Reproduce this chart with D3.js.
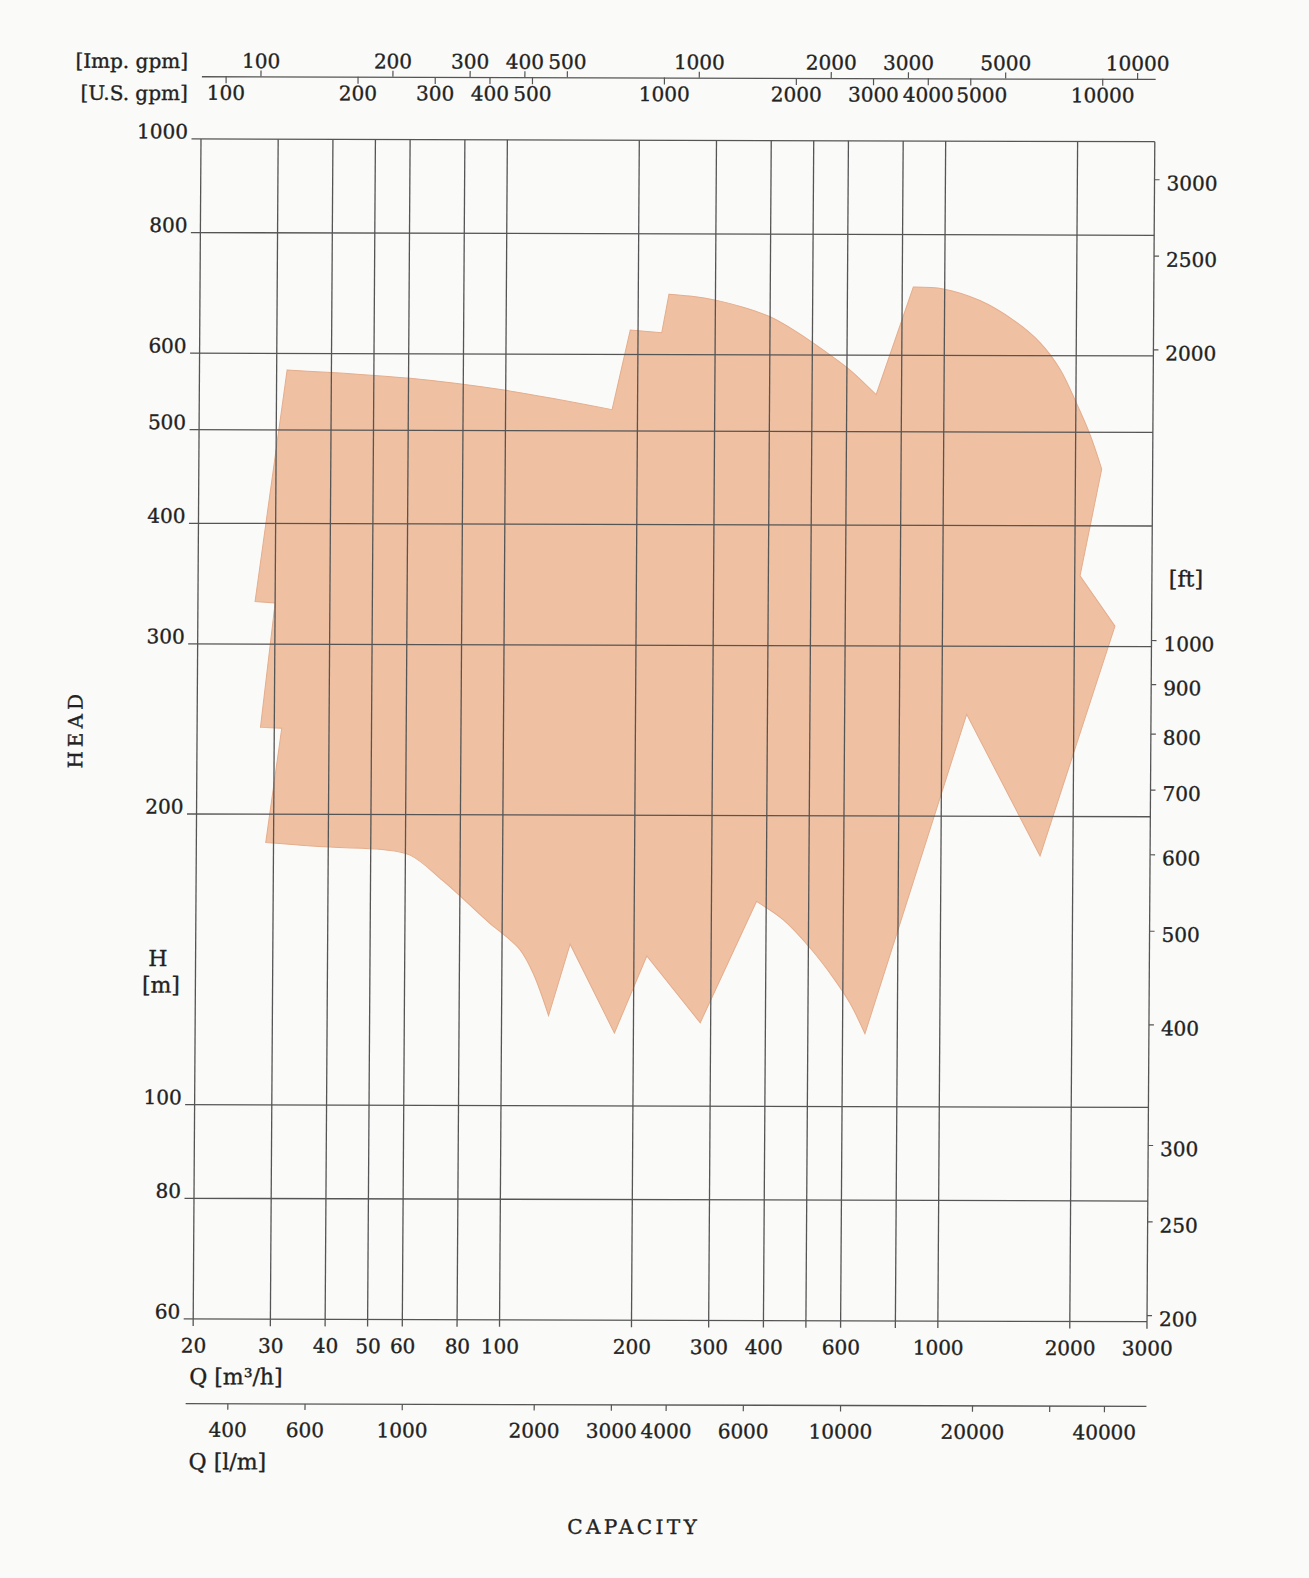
<!DOCTYPE html>
<html><head><meta charset="utf-8">
<script src="https://cdn.jsdelivr.net/npm/d3@7"></script>
<style>
html,body{margin:0;padding:0;background:#fafaf8;}
svg{display:block;}
</style></head><body>
<svg id="c" width="1309" height="1578"></svg>
<script>
// ---- data ----
// operating envelope outline, Q [m3/h] and H [m], traced clockwise
const envelopeQ = [31.7, 60.5, 101, 175, 192, 226.5, 235, 262, 302, 347, 400, 460, 530, 610, 700,
  848, 993, 1204, 1436, 1653, 1838, 2009, 2157, 2296, 2056, 2475, 1683, 1139,
  675, 623, 570, 504, 438, 380, 284, 214, 181, 143, 128, 118, 110, 99, 95, 73, 61.5, 53, 40.4,
  28.8, 31.2, 27.9, 30.0, 27.0];
const envelopeH = [577, 566, 550, 526, 636, 632, 693, 690, 683, 672, 657, 634, 607, 579, 546,
  706, 703, 684, 653, 619, 581, 535, 497, 458, 355, 315, 182, 255,
  119, 128, 136, 146, 156, 163, 122, 143, 119, 147, 124, 137, 145, 151.4, 153.6, 171, 181.6, 184, 185,
  187, 245.5, 246, 331, 332];
const gridQ = [20, 30, 40, 50, 60, 80, 100, 200, 300, 400, 500, 600, 800, 1000, 2000, 3000];
const labelQ = [20, 30, 40, 50, 60, 80, 100, 200, 300, 400, 600, 1000, 2000, 3000];
const gridH = [60, 80, 100, 200, 300, 400, 500, 600, 800, 1000];
const ftTicks = [200, 250, 300, 400, 500, 600, 700, 800, 900, 1000, 2000, 2500, 3000];
const usGpmTicks = [100, 200, 300, 400, 500, 1000, 2000, 3000, 4000, 5000, 10000];
const impGpmTicks = [100, 200, 300, 400, 500, 1000, 2000, 3000, 5000, 10000];
const lpmTicks = [400, 600, 1000, 2000, 3000, 4000, 6000, 10000, 20000, 30000, 40000];
const lpmLabels = [400, 600, 1000, 2000, 3000, 4000, 6000, 10000, 20000, 40000];

// ---- layout ----
const FONT = "'DejaVu Serif', serif";
const FS = 20;
const INK = "#222";
const GRID = "#555";
const L = 197.1, R = 1150.9, T = 140.35, B = 1320.35;
const kx = -0.00661, ky = 0.00283, cx = 674, cy = 730; // slight scan skew

const svg = d3.select("#c");
svg.append("rect").attr("width", 1309).attr("height", 1578).attr("fill", "#fafaf8");
const g = svg.append("g")
  .attr("transform", `matrix(1,${ky},${kx},1,${-kx * cy},${-ky * cx})`);

const x = d3.scaleLog().domain([20, 3000]).range([L, R]);
const y = d3.scaleLog().domain([60, 1000]).range([B, T]);
const yFt = d3.scaleLog().domain([60 / 0.3048, 1000 / 0.3048]).range([B, T]);
const xUS = d3.scaleLog().domain([20 / 0.2271247, 3000 / 0.2271247]).range([L, R]);
const xImp = d3.scaleLog().domain([20 / 0.272765, 3000 / 0.272765]).range([L, R]);
const xLpm = d3.scaleLog().domain([20 / 0.06, 3000 / 0.06]).range([L, R]);

// envelope: smooth runs where the outline is a curve, straight elsewhere
const pts = envelopeQ.map((q, i) => [x(q), y(envelopeH[i])]);
const runs = [[0, 3, 1], [3, 6, 0], [6, 14, 1], [14, 15, 0], [15, 23, 1], [23, 28, 0],
  [28, 33, 1], [33, 38, 0], [38, 47, 1], [47, 51, 0]];
const smooth = d3.line().curve(d3.curveCatmullRom.alpha(0.5));
const straight = d3.line();
let d = "";
runs.forEach(([a, b, s], k) => {
  const seg = (s ? smooth : straight)(pts.slice(a, b + 1));
  d += k === 0 ? seg : "L" + seg.slice(1);
});
d += "Z";
g.append("path")
  .attr("d", d)
  .attr("fill", "#efc1a2")
  .attr("stroke", "#e4ad8d")
  .attr("stroke-width", 1);

// grid
g.append("g").selectAll("line").data(gridQ).join("line")
  .attr("x1", v => x(v)).attr("x2", v => x(v))
  .attr("y1", T).attr("y2", B + 7)
  .attr("stroke", GRID).attr("stroke-width", 1.3);
g.append("g").selectAll("line").data(gridH).join("line")
  .attr("x1", L - 9.5).attr("x2", R)
  .attr("y1", v => y(v)).attr("y2", v => y(v))
  .attr("stroke", GRID).attr("stroke-width", 1.3);

function styleAxis(sel) {
  sel.attr("font-family", FONT).attr("font-size", FS).attr("color", INK);
  sel.selectAll(".tick line").attr("stroke", GRID).attr("stroke-width", 1.2);
  sel.selectAll("text").attr("fill", INK).attr("stroke", INK).attr("stroke-width", 0.35);
}

// left H [m]
const axL = g.append("g").attr("transform", `translate(${L},0)`)
  .call(d3.axisLeft(y).tickValues(gridH).tickFormat(d3.format("d")).tickSize(0).tickPadding(13));
axL.select(".domain").remove();
styleAxis(axL);
axL.selectAll("text").attr("dy", "-1");

// right ft
const axR = g.append("g").attr("transform", `translate(${R},0)`)
  .call(d3.axisRight(yFt).tickValues(ftTicks).tickFormat(d3.format("d")).tickSize(5).tickPadding(7));
axR.select(".domain").remove();
styleAxis(axR);
axR.selectAll("text").attr("dy", "10.5");

// bottom m3/h
const axB = g.append("g").attr("transform", `translate(0,${B})`)
  .call(d3.axisBottom(x).tickValues(gridQ).tickSize(0)
    .tickFormat(v => labelQ.includes(v) ? String(v) : ""));
axB.select(".domain").remove();
styleAxis(axB);
axB.selectAll("text").attr("y", 33.5).attr("dy", "0");

// bottom l/m
const lpmY = 1405;
g.append("line").attr("x1", L - 7).attr("x2", R).attr("y1", lpmY).attr("y2", lpmY)
  .attr("stroke", GRID).attr("stroke-width", 1.3);
const axLp = g.append("g").attr("transform", `translate(0,${lpmY})`)
  .call(d3.axisBottom(xLpm).tickValues(lpmTicks).tickSize(6)
    .tickFormat(v => lpmLabels.includes(v) ? String(v) : ""));
axLp.select(".domain").remove();
styleAxis(axLp);
axLp.selectAll("text").attr("y", 33).attr("dy", "0");

// top gpm axes
const topY = 77.6;
const axImp = g.append("g").attr("transform", `translate(0,${topY})`)
  .call(d3.axisTop(xImp).tickValues(impGpmTicks).tickSize(6).tickSizeOuter(0).tickFormat(d3.format("d")));
styleAxis(axImp);
axImp.select(".domain").attr("stroke", GRID).attr("stroke-width", 1.3);
axImp.selectAll("text").attr("y", -8.5).attr("dy", "0");
const axUS = g.append("g").attr("transform", `translate(0,${topY})`)
  .call(d3.axisBottom(xUS).tickValues(usGpmTicks).tickSize(7).tickFormat(d3.format("d")));
axUS.select(".domain").remove();
styleAxis(axUS);
axUS.selectAll("text").attr("y", 23.5).attr("dy", "0");
axUS.selectAll(".tick text").filter(v => v === 5000).attr("dx", 11);

// texts
function txt(s, xx, yy, anchor, size) {
  return g.append("text").attr("x", xx).attr("y", yy).text(s)
    .attr("font-family", FONT).attr("font-size", size || FS).attr("fill", INK)
    .attr("stroke", INK).attr("stroke-width", 0.35)
    .attr("text-anchor", anchor || "start");
}
txt("[Imp. gpm]", 183.6, 69.5, "end");
txt("[U.S. gpm]", 183.6, 101.5, "end");
txt("[ft]", 1185, 585, "middle", 22);
txt("H", 159.5, 967.5, "middle", 22);
txt("[m]", 162.7, 994, "middle", 22);
txt("Q [m³/h]", 193.5, 1385.5, "start", 22);
txt("Q [l/m]", 193.5, 1470.5, "start", 22);
txt("CAPACITY", 639, 1534, "middle").attr("letter-spacing", 3.4);
g.append("text").text("HEAD")
  .attr("transform", "translate(75.5,731) rotate(-90)")
  .attr("text-anchor", "middle").attr("dominant-baseline", "central")
  .attr("font-family", FONT).attr("font-size", FS).attr("letter-spacing", 4)
  .attr("fill", INK).attr("stroke", INK).attr("stroke-width", 0.35);
</script>
</body></html>
